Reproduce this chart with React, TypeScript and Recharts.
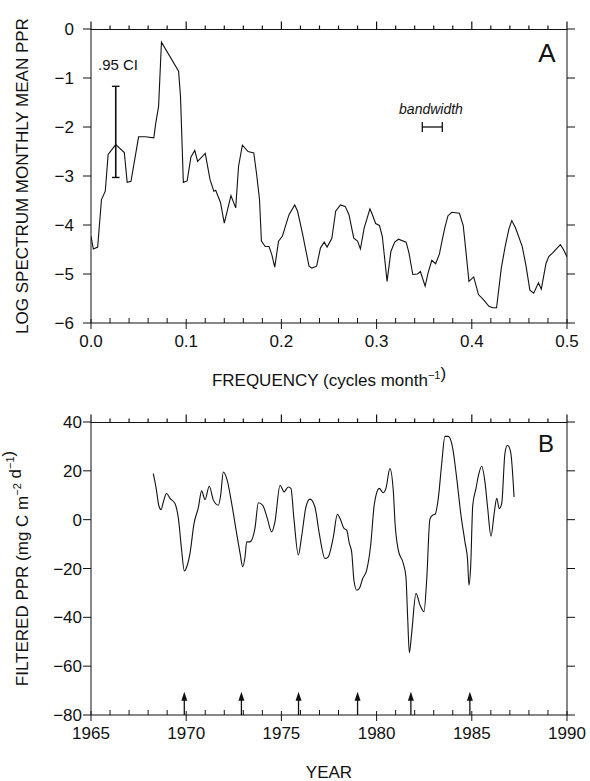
import React from 'react';
import {
  LineChart,
  ComposedChart,
  Line,
  XAxis,
  YAxis,
  ReferenceLine,
  ReferenceDot,
  Label,
} from 'recharts';

const FONT = '"Liberation Sans", Arial, Helvetica, sans-serif';
const INK = '#111';

// ---- panel A: log spectrum of monthly mean PPR ----
const freqA = [
  0.000, 0.0025, 0.007, 0.011, 0.015, 0.018, 0.026, 0.035, 0.038, 0.042,
  0.050, 0.057, 0.066, 0.068, 0.071, 0.074, 0.092, 0.094, 0.097, 0.101,
  0.105, 0.109, 0.112, 0.120, 0.125, 0.129, 0.131, 0.136, 0.140, 0.147,
  0.152, 0.155, 0.159, 0.165, 0.169, 0.171, 0.174, 0.177, 0.179, 0.183,
  0.187, 0.190, 0.193, 0.197, 0.201, 0.208, 0.214, 0.217, 0.222, 0.229,
  0.232, 0.237, 0.241, 0.245, 0.248, 0.253, 0.257, 0.262, 0.267, 0.271,
  0.276, 0.280, 0.283, 0.287, 0.293, 0.295, 0.299, 0.303, 0.306, 0.309,
  0.311, 0.315, 0.319, 0.323, 0.331, 0.334, 0.338, 0.343, 0.346, 0.351,
  0.354, 0.358, 0.362, 0.366, 0.369, 0.372, 0.375, 0.379, 0.387, 0.391,
  0.394, 0.397, 0.402, 0.407, 0.412, 0.418, 0.422, 0.426, 0.431, 0.435,
  0.439, 0.442, 0.446, 0.453, 0.457, 0.461, 0.465, 0.470, 0.473, 0.478,
  0.481, 0.485, 0.493, 0.496, 0.500,
];
const logSpecA = [
  -4.23, -4.49, -4.45, -3.48, -3.31, -2.56, -2.36, -2.52, -3.13, -3.11,
  -2.20, -2.20, -2.22, -1.92, -1.58, -0.27, -0.86, -1.37, -3.13, -3.10,
  -2.61, -2.48, -2.70, -2.54, -3.07, -3.31, -3.29, -3.54, -3.96, -3.40,
  -3.65, -2.80, -2.37, -2.50, -2.52, -2.53, -2.97, -3.48, -4.33, -4.44,
  -4.44, -4.61, -4.86, -4.33, -4.23, -3.79, -3.59, -3.72, -4.16, -4.84,
  -4.88, -4.84, -4.47, -4.35, -4.45, -4.27, -3.72, -3.59, -3.62, -3.79,
  -4.27, -4.33, -4.49, -4.06, -3.67, -3.76, -3.97, -4.01, -4.23, -4.78,
  -5.15, -4.54, -4.35, -4.29, -4.35, -4.57, -5.01, -5.00, -4.95, -5.25,
  -4.98, -4.72, -4.79, -4.59, -4.30, -4.03, -3.81, -3.74, -3.76, -4.01,
  -4.57, -5.15, -5.06, -5.42, -5.52, -5.66, -5.69, -5.69, -4.88, -4.44,
  -4.08, -3.91, -4.06, -4.44, -4.84, -5.33, -5.39, -5.18, -5.31, -4.78,
  -4.64, -4.57, -4.40, -4.49, -4.65,
];
const freqTicks = [
  0, 0.02, 0.04, 0.06, 0.08, 0.1, 0.12, 0.14, 0.16, 0.18, 0.2, 0.22, 0.24,
  0.26, 0.28, 0.3, 0.32, 0.34, 0.36, 0.38, 0.4, 0.42, 0.44, 0.46, 0.48, 0.5,
];
const specTicks = [-6, -5, -4, -3, -2, -1, 0];

// .95 confidence interval bar and bandwidth marker
const ciFreq = 0.026;
const ciRange = [-3.03, -1.17];
const bwRange = [0.348, 0.369];
const bwLevel = -2.0;

// ---- panel B: filtered PPR time series ----
const yearsB = [
  1968.27, 1968.41, 1968.57, 1968.68, 1968.80, 1968.97, 1969.15, 1969.41, 1969.59, 1969.76,
  1969.90, 1970.03, 1970.20, 1970.41, 1970.64, 1970.81, 1970.99, 1971.21, 1971.43, 1971.69,
  1971.81, 1971.95, 1972.13, 1972.39, 1972.65, 1972.83, 1972.97, 1973.09, 1973.18, 1973.35,
  1973.61, 1973.79, 1974.02, 1974.26, 1974.49, 1974.66, 1974.93, 1975.14, 1975.36, 1975.50,
  1975.66, 1975.89, 1976.06, 1976.29, 1976.50, 1976.76, 1976.99, 1977.29, 1977.46, 1977.73,
  1977.94, 1978.08, 1978.29, 1978.43, 1978.57, 1978.69, 1978.81, 1978.96, 1979.09, 1979.27,
  1979.48, 1979.69, 1979.88, 1980.14, 1980.35, 1980.49, 1980.70, 1980.88, 1980.97, 1981.14,
  1981.40, 1981.54, 1981.63, 1981.72, 1981.84, 1982.07, 1982.28, 1982.49, 1982.63, 1982.80,
  1982.93, 1983.07, 1983.24, 1983.42, 1983.59, 1983.77, 1984.00, 1984.21, 1984.42, 1984.64,
  1984.78, 1984.85, 1984.94, 1985.05, 1985.22, 1985.34, 1985.52, 1985.69, 1985.83, 1986.01,
  1986.17, 1986.31, 1986.44, 1986.57, 1986.74, 1986.87, 1987.04, 1987.22,
];
const filteredB = [
  18.9, 13.4, 5.5, 4.1, 7.3, 10.7, 8.7, 6.6, 0.5, -12.5,
  -21.0, -19.3, -13.8, -1.6, 5.0, 11.8, 8.2, 13.7, 8.0, 5.9,
  10.0, 19.5, 16.8, 6.6, -5.7, -13.8, -19.3, -15.2, -9.1, -9.1,
  -3.6, 6.9, 5.9, 0.5, -5.0, -0.9, 14.1, 11.4, 13.4, 12.8,
  0.2, -14.5, -7.0, 5.2, 8.4, 5.2, -5.7, -15.9, -15.2, -7.0,
  2.2, 0.5, -3.6, -4.3, -9.8, -13.2, -24.8, -28.9, -28.2, -24.1,
  -20.7, -10.4, 6.3, 12.8, 11.0, 12.8, 20.9, 11.4, -1.6, -12.5,
  -17.9, -23.4, -39.8, -54.5, -46.6, -30.2, -35.0, -37.7, -24.8, 0.2,
  1.8, 2.2, 8.7, 23.0, 34.1, 34.1, 29.1, 16.8, 2.5, -9.1,
  -16.6, -26.8, -19.3, 5.9, 12.8, 17.8, 21.9, 15.5, 5.0, -6.8,
  2.2, 8.7, 4.6, 6.6, 27.1, 30.5, 27.7, 9.3,
];
const yearTicks = [
  1965, 1966, 1967, 1968, 1969, 1970, 1971, 1972, 1973, 1974, 1975, 1976, 1977,
  1978, 1979, 1980, 1981, 1982, 1983, 1984, 1985, 1986, 1987, 1988, 1989, 1990,
];
const pprTicks = [-80, -60, -40, -20, 0, 20, 40];
const arrowYears = [1969.9, 1972.9, 1975.9, 1979.0, 1981.8, 1984.9];
const arrowBase = -80;
const arrowTip = -70.5;

const specData = freqA.map((f, i) => ({ f, v: logSpecA[i] }));
const pprData = yearsB.map((yr, i) => ({ yr, v: filteredB[i] }));

// plot boxes (chart-local pixels); margins are derived from these
const LEFT_W = 80;
const RIGHT_W = 10;
const BOTTOM_H = 30;
const boxA = { left: 91, top: 29, width: 476, height: 294, chartH: 390 };
const boxB = { left: 91, top: 32, width: 476, height: 293, chartH: 391 };
const marginOf = (b: typeof boxA) => ({
  top: b.top,
  left: b.left - LEFT_W,
  right: 590 - b.left - b.width - RIGHT_W,
  bottom: b.chartH - b.top - b.height - BOTTOM_H,
});

const minus = (v: number) => (v < 0 ? '\u2212' + Math.abs(v) : String(v));
const isMajor = (v: number, step: number) => Math.abs(v / step - Math.round(v / step)) < 1e-6;

type Side = 'bottom' | 'left' | 'right';

// draws tick marks (and labels on majors) by hand so majors / minors can differ
function makeTick(side: Side, step: number, fmt?: (v: number) => string, gap = 12) {
  return (props: any) => {
    const { x, y, payload } = props;
    const v = payload.value;
    const major = isMajor(v, step);
    let seg: number[];
    if (side === 'bottom') seg = major ? [x, y - 4, x, y + 6] : [x, y - 5, x, y];
    else if (side === 'left') seg = [x - 8, y, x, y];
    else seg = [x, y, x + 8, y];
    return (
      <g>
        <line x1={seg[0]} y1={seg[1]} x2={seg[2]} y2={seg[3]} stroke={INK} strokeWidth={1} />
        {fmt && major && side === 'bottom' && (
          <text x={x} y={y + 24} textAnchor="middle" fontSize={17} fontFamily={FONT} fill={INK}>
            {fmt(v)}
          </text>
        )}
        {fmt && major && side === 'left' && (
          <text x={x - gap} y={y + 6} textAnchor="end" fontSize={17} fontFamily={FONT} fill={INK}>
            {fmt(v)}
          </text>
        )}
      </g>
    );
  };
}

// top edge of the frame with upward ticks, as plain svg path data
const topFramePath = (box: typeof boxA, ticks: number[], lo: number, hi: number, step: number) => {
  const y = box.top + 0.5;
  let d = `M${box.left},${y}H${box.left + box.width}`;
  ticks.forEach((t) => {
    const x = box.left + ((t - lo) / (hi - lo)) * box.width;
    d += `M${x},${y}V${y - (isMajor(t, step) ? 8 : 4)}`;
  });
  return d;
};

const xTitle = (children: React.ReactNode) => (props: any) => {
  const vb = props.viewBox || { x: 91, y: 323, width: 476 };
  return (
    <text x={vb.x + vb.width / 2} y={vb.y + 63} textAnchor="middle" fontSize={17} fontFamily={FONT} fill={INK}>
      {children}
    </text>
  );
};

const yTitle = (children: React.ReactNode) => (props: any) => {
  const vb = props.viewBox || { x: 11, y: 29, height: 294 };
  const cx = vb.x + 11;
  const cy = vb.y + vb.height / 2;
  return (
    <text
      x={cx}
      y={cy}
      dy={6}
      transform={`rotate(-90 ${cx} ${cy})`}
      textAnchor="middle"
      fontSize={17}
      fontFamily={FONT}
      fill={INK}
    >
      {children}
    </text>
  );
};

const sup = (s: string) => (
  <>
    <tspan dy={-7} fontSize={11}>{s}</tspan>
    <tspan dy={7}>{''}</tspan>
  </>
);

const arrowHead = (props: any) => {
  const { cx, cy } = props;
  return <polygon points={`${cx},${cy} ${cx - 3},${cy + 9} ${cx + 3},${cy + 9}`} fill={INK} />;
};

function SpectrumPanel() {
  return (
    <LineChart width={590} height={boxA.chartH} data={specData} margin={marginOf(boxA)}>
      <XAxis
        xAxisId="b"
        dataKey="f"
        type="number"
        domain={[0, 0.5]}
        allowDataOverflow
        ticks={freqTicks}
        interval={0}
        height={BOTTOM_H}
        tickSize={0}
        tickMargin={0}
        tickLine={false}
        tick={makeTick('bottom', 0.1, (v) => v.toFixed(1))}
        stroke={INK}
      >
        <Label content={xTitle(<>FREQUENCY (cycles month{sup('\u22121')})</>)} />
      </XAxis>
      <YAxis
        yAxisId="l"
        type="number"
        domain={[-6, 0]}
        allowDataOverflow
        ticks={specTicks}
        interval={0}
        width={LEFT_W}
        tickSize={0}
        tickMargin={0}
        tickLine={false}
        tick={makeTick('left', 1, minus, 17)}
        stroke={INK}
      >
        <Label content={yTitle('LOG SPECTRUM MONTHLY MEAN PPR')} />
      </YAxis>
      <YAxis
        yAxisId="r"
        orientation="right"
        type="number"
        domain={[-6, 0]}
        allowDataOverflow
        ticks={specTicks}
        interval={0}
        width={RIGHT_W}
        tickSize={0}
        tickMargin={0}
        tickLine={false}
        tick={makeTick('right', 1)}
        stroke={INK}
      />
      <Line
        xAxisId="b"
        yAxisId="l"
        dataKey="v"
        type="linear"
        stroke={INK}
        strokeWidth={1.1}
        dot={false}
        isAnimationActive={false}
      />
      {/* .95 CI bar */}
      <ReferenceLine xAxisId="b" yAxisId="l" segment={[{ x: ciFreq, y: ciRange[0] }, { x: ciFreq, y: ciRange[1] }]} stroke={INK} strokeWidth={1.6} />
      <ReferenceLine xAxisId="b" yAxisId="l" segment={[{ x: ciFreq - 0.004, y: ciRange[0] }, { x: ciFreq + 0.004, y: ciRange[0] }]} stroke={INK} strokeWidth={1.4} />
      <ReferenceLine xAxisId="b" yAxisId="l" segment={[{ x: ciFreq - 0.004, y: ciRange[1] }, { x: ciFreq + 0.004, y: ciRange[1] }]} stroke={INK} strokeWidth={1.4} />
      {/* bandwidth marker */}
      <ReferenceLine xAxisId="b" yAxisId="l" segment={[{ x: bwRange[0], y: bwLevel }, { x: bwRange[1], y: bwLevel }]} stroke={INK} strokeWidth={1.3} />
      <ReferenceLine xAxisId="b" yAxisId="l" segment={[{ x: bwRange[0], y: bwLevel - 0.1 }, { x: bwRange[0], y: bwLevel + 0.1 }]} stroke={INK} strokeWidth={1.3} />
      <ReferenceLine xAxisId="b" yAxisId="l" segment={[{ x: bwRange[1], y: bwLevel - 0.1 }, { x: bwRange[1], y: bwLevel + 0.1 }]} stroke={INK} strokeWidth={1.3} />
      <path d={topFramePath(boxA, freqTicks, 0, 0.5, 0.1)} stroke={INK} strokeWidth={1.2} fill="none" />
      <text x={98} y={70} fontSize={15} fontFamily={FONT} fill={INK}>.95 CI</text>
      <text x={431} y={114} textAnchor="middle" fontSize={14} fontStyle="italic" fontFamily={FONT} fill={INK}>bandwidth</text>
      <text x={547} y={62} textAnchor="middle" fontSize={26} fontFamily={FONT} fill={INK}>A</text>
    </LineChart>
  );
}

function FilteredPanel() {
  return (
    <ComposedChart width={590} height={boxB.chartH} data={pprData} margin={marginOf(boxB)}>
      <XAxis
        xAxisId="b"
        dataKey="yr"
        type="number"
        domain={[1965, 1990]}
        allowDataOverflow
        ticks={yearTicks}
        interval={0}
        height={BOTTOM_H}
        tickSize={0}
        tickMargin={0}
        tickLine={false}
        tick={makeTick('bottom', 5, (v) => String(v))}
        stroke={INK}
      >
        <Label content={xTitle('YEAR')} />
      </XAxis>
      <YAxis
        yAxisId="l"
        type="number"
        domain={[-80, 40]}
        allowDataOverflow
        ticks={pprTicks}
        interval={0}
        width={LEFT_W}
        tickSize={0}
        tickMargin={0}
        tickLine={false}
        tick={makeTick('left', 20, minus, 9)}
        stroke={INK}
      >
        <Label content={yTitle(<>FILTERED PPR (mg C m{sup('\u22122')} d{sup('\u22121')})</>)} />
      </YAxis>
      <YAxis
        yAxisId="r"
        orientation="right"
        type="number"
        domain={[-80, 40]}
        allowDataOverflow
        ticks={pprTicks}
        interval={0}
        width={RIGHT_W}
        tickSize={0}
        tickMargin={0}
        tickLine={false}
        tick={makeTick('right', 20)}
        stroke={INK}
      />
      <Line
        xAxisId="b"
        yAxisId="l"
        dataKey="v"
        type="monotone"
        stroke={INK}
        strokeWidth={1.1}
        dot={false}
        isAnimationActive={false}
      />
      {arrowYears.map((yr) => (
        <ReferenceLine
          key={'s' + yr}
          xAxisId="b"
          yAxisId="l"
          segment={[{ x: yr, y: arrowBase }, { x: yr, y: arrowTip - 2 }]}
          stroke={INK}
          strokeWidth={1.3}
        />
      ))}
      {arrowYears.map((yr) => (
        <ReferenceDot key={'h' + yr} xAxisId="b" yAxisId="l" x={yr} y={arrowTip} shape={arrowHead} />
      ))}
      <path d={topFramePath(boxB, yearTicks, 1965, 1990, 5)} stroke={INK} strokeWidth={1.2} fill="none" />
      <text x={546} y={62} textAnchor="middle" fontSize={24} fontFamily={FONT} fill={INK}>B</text>
    </ComposedChart>
  );
}

export default function App() {
  return (
    <div style={{ position: 'absolute', left: 0, top: 0, width: 590, height: 781, background: '#fff', fontFamily: FONT }}>
      <div style={{ position: 'absolute', left: 0, top: 0 }}>
        <SpectrumPanel />
      </div>
      <div style={{ position: 'absolute', left: 0, top: 390 }}>
        <FilteredPanel />
      </div>
    </div>
  );
}
